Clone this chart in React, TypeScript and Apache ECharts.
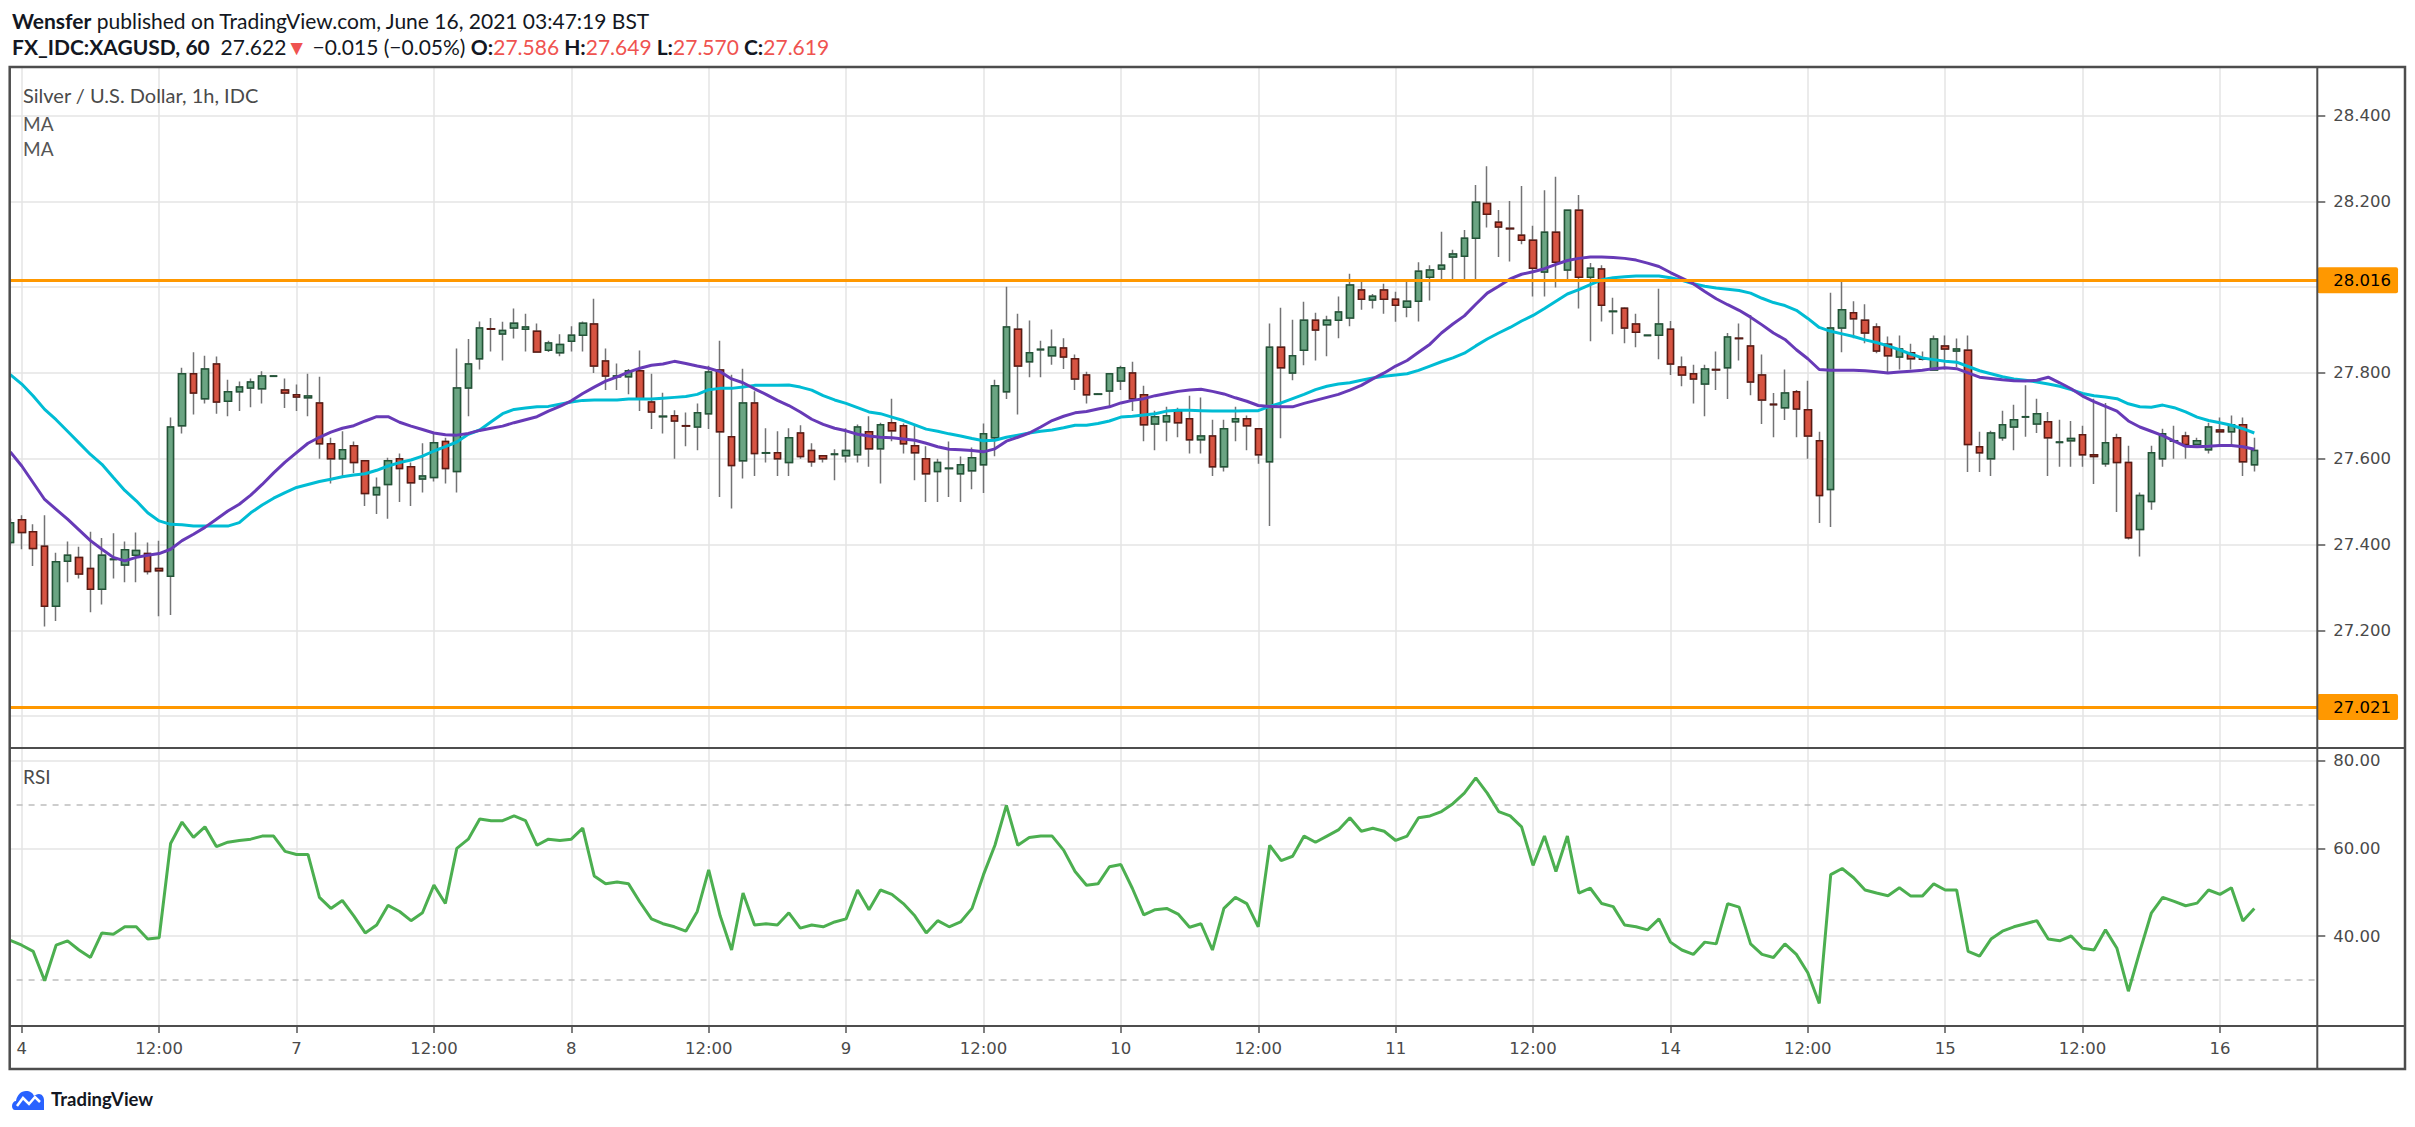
import React, { useEffect, useRef } from 'react';
import * as echarts from 'echarts';

// ---------- data ----------
const dayNames = ['3', '4', '7', '8', '9', '10', '11', '14', '15', '16'];
const SLOT_COUNT = 202;

const opens = [
  27.405, 27.458, 27.430, 27.396, 27.256, 27.361, 27.370, 27.344, 27.296, 27.365,
  27.352, 27.375, 27.379, 27.344, 27.326, 27.677, 27.798, 27.740, 27.821, 27.734,
  27.756, 27.765, 27.763, 27.792, 27.760, 27.749, 27.742, 27.730, 27.635, 27.600,
  27.630, 27.595, 27.516, 27.540, 27.600, 27.581, 27.553, 27.556, 27.640, 27.570,
  27.765, 27.833, 27.903, 27.891, 27.905, 27.902, 27.897, 27.853, 27.847, 27.874,
  27.888, 27.914, 27.828, 27.791, 27.791, 27.805, 27.732, 27.698, 27.700, 27.677,
  27.674, 27.705, 27.807, 27.651, 27.595, 27.730, 27.613, 27.614, 27.591, 27.660,
  27.619, 27.607, 27.610, 27.607, 27.609, 27.663, 27.623, 27.684, 27.677, 27.630,
  27.600, 27.570, 27.577, 27.565, 27.572, 27.586, 27.649, 27.756, 27.902, 27.826,
  27.854, 27.840, 27.858, 27.833, 27.795, 27.750, 27.758, 27.781, 27.800, 27.749,
  27.681, 27.686, 27.712, 27.693, 27.644, 27.653, 27.581, 27.686, 27.693, 27.670,
  27.593, 27.860, 27.800, 27.853, 27.923, 27.912, 27.923, 27.928, 27.993, 27.970,
  27.993, 27.972, 27.953, 27.967, 28.023, 28.042, 28.070, 28.072, 28.114, 28.195,
  28.151, 28.137, 28.121, 28.109, 28.035, 28.128, 28.040, 28.179, 28.023, 28.042,
  27.943, 27.951, 27.914, 27.887, 27.888, 27.902, 27.814, 27.798, 27.774, 27.808,
  27.812, 27.881, 27.863, 27.795, 27.727, 27.719, 27.756, 27.714, 27.642, 27.528,
  27.905, 27.940, 27.923, 27.907, 27.867, 27.837, 27.847, 27.833, 27.807, 27.863,
  27.851, 27.853, 27.628, 27.600, 27.649, 27.674, 27.697, 27.681, 27.686, 27.638,
  27.642, 27.656, 27.609, 27.588, 27.649, 27.591, 27.435, 27.500, 27.600, 27.641,
  27.653, 27.633, 27.621, 27.667, 27.663, 27.679, 27.586,
];

const closes = [
  27.451, 27.428, 27.391, 27.256, 27.360, 27.375, 27.331, 27.296, 27.375, 27.366,
  27.388, 27.386, 27.337, 27.339, 27.674, 27.798, 27.753, 27.809, 27.732, 27.756,
  27.767, 27.779, 27.793, 27.793, 27.753, 27.744, 27.746, 27.635, 27.600, 27.621,
  27.591, 27.519, 27.533, 27.595, 27.577, 27.544, 27.560, 27.637, 27.577, 27.765,
  27.821, 27.905, 27.902, 27.899, 27.916, 27.907, 27.849, 27.870, 27.866, 27.888,
  27.916, 27.816, 27.793, 27.793, 27.805, 27.740, 27.709, 27.699, 27.688, 27.676,
  27.707, 27.802, 27.663, 27.584, 27.730, 27.612, 27.614, 27.600, 27.649, 27.605,
  27.593, 27.600, 27.611, 27.619, 27.674, 27.623, 27.679, 27.665, 27.635, 27.614,
  27.565, 27.591, 27.578, 27.586, 27.602, 27.658, 27.770, 27.907, 27.816, 27.847,
  27.855, 27.860, 27.837, 27.786, 27.749, 27.751, 27.798, 27.812, 27.740, 27.679,
  27.698, 27.700, 27.684, 27.644, 27.653, 27.581, 27.670, 27.693, 27.677, 27.609,
  27.860, 27.812, 27.840, 27.923, 27.900, 27.923, 27.942, 28.005, 27.972, 27.979,
  27.972, 27.958, 27.967, 28.037, 28.040, 28.051, 28.077, 28.114, 28.198, 28.170,
  28.140, 28.136, 28.109, 28.044, 28.128, 28.058, 28.179, 28.023, 28.044, 27.958,
  27.944, 27.905, 27.895, 27.888, 27.914, 27.821, 27.795, 27.786, 27.809, 27.807,
  27.884, 27.880, 27.779, 27.737, 27.726, 27.753, 27.716, 27.653, 27.514, 27.905,
  27.947, 27.926, 27.893, 27.851, 27.840, 27.856, 27.833, 27.832, 27.879, 27.856,
  27.856, 27.633, 27.614, 27.660, 27.679, 27.691, 27.698, 27.705, 27.649, 27.639,
  27.647, 27.609, 27.605, 27.637, 27.591, 27.416, 27.514, 27.614, 27.658, 27.642,
  27.633, 27.642, 27.674, 27.663, 27.679, 27.593, 27.619,
];

const lows = [
  27.400, 27.389, 27.350, 27.209, 27.222, 27.312, 27.321, 27.242, 27.260, 27.321,
  27.312, 27.312, 27.330, 27.233, 27.236, 27.659, 27.703, 27.729, 27.705, 27.699,
  27.711, 27.720, 27.729, 27.791, 27.718, 27.711, 27.699, 27.600, 27.542, 27.556,
  27.567, 27.490, 27.471, 27.460, 27.499, 27.490, 27.521, 27.547, 27.542, 27.521,
  27.699, 27.808, 27.850, 27.829, 27.880, 27.850, 27.849, 27.849, 27.839, 27.850,
  27.850, 27.800, 27.760, 27.760, 27.750, 27.711, 27.669, 27.659, 27.600, 27.629,
  27.620, 27.669, 27.511, 27.484, 27.554, 27.560, 27.591, 27.560, 27.560, 27.600,
  27.581, 27.591, 27.550, 27.591, 27.591, 27.581, 27.542, 27.641, 27.612, 27.550,
  27.499, 27.499, 27.511, 27.499, 27.529, 27.520, 27.606, 27.739, 27.703, 27.790,
  27.790, 27.819, 27.809, 27.760, 27.729, 27.749, 27.721, 27.760, 27.711, 27.641,
  27.620, 27.641, 27.650, 27.612, 27.612, 27.560, 27.570, 27.641, 27.620, 27.588,
  27.443, 27.648, 27.783, 27.818, 27.829, 27.839, 27.881, 27.909, 27.947, 27.950,
  27.938, 27.919, 27.930, 27.920, 27.969, 28.019, 28.019, 28.019, 28.019, 28.139,
  28.070, 28.060, 28.100, 27.978, 27.978, 27.999, 28.019, 27.950, 27.874, 27.920,
  27.890, 27.869, 27.860, 27.887, 27.832, 27.795, 27.769, 27.729, 27.699, 27.760,
  27.739, 27.829, 27.748, 27.681, 27.650, 27.690, 27.650, 27.600, 27.450, 27.441,
  27.848, 27.881, 27.869, 27.846, 27.800, 27.808, 27.808, 27.829, 27.805, 27.808,
  27.814, 27.569, 27.569, 27.560, 27.642, 27.620, 27.651, 27.660, 27.560, 27.581,
  27.581, 27.581, 27.541, 27.581, 27.476, 27.412, 27.372, 27.481, 27.581, 27.600,
  27.600, 27.633, 27.612, 27.628, 27.628, 27.560, 27.570,
];

const highs = [
  27.460, 27.468, 27.447, 27.468, 27.381, 27.407, 27.395, 27.430, 27.415, 27.426,
  27.407, 27.428, 27.405, 27.409, 27.696, 27.812, 27.848, 27.840, 27.838, 27.784,
  27.780, 27.787, 27.804, 27.795, 27.787, 27.773, 27.798, 27.791, 27.649, 27.664,
  27.640, 27.597, 27.556, 27.602, 27.612, 27.591, 27.636, 27.660, 27.649, 27.857,
  27.879, 27.920, 27.928, 27.919, 27.950, 27.938, 27.915, 27.875, 27.890, 27.909,
  27.920, 27.973, 27.857, 27.822, 27.809, 27.852, 27.798, 27.754, 27.713, 27.708,
  27.729, 27.817, 27.875, 27.796, 27.810, 27.757, 27.671, 27.664, 27.671, 27.678,
  27.636, 27.607, 27.622, 27.671, 27.680, 27.699, 27.684, 27.740, 27.682, 27.680,
  27.629, 27.600, 27.640, 27.605, 27.626, 27.682, 27.784, 28.001, 27.938, 27.922,
  27.875, 27.901, 27.881, 27.843, 27.803, 27.753, 27.800, 27.817, 27.826, 27.770,
  27.712, 27.721, 27.719, 27.747, 27.743, 27.691, 27.691, 27.721, 27.701, 27.670,
  27.915, 27.952, 27.924, 27.966, 27.940, 27.933, 27.978, 28.031, 28.017, 27.984,
  28.008, 27.989, 28.012, 28.058, 28.051, 28.129, 28.087, 28.133, 28.238, 28.282,
  28.180, 28.201, 28.236, 28.143, 28.226, 28.257, 28.181, 28.215, 28.056, 28.051,
  27.975, 27.953, 27.938, 27.889, 27.996, 27.921, 27.838, 27.819, 27.819, 27.850,
  27.893, 27.915, 27.935, 27.843, 27.753, 27.808, 27.760, 27.782, 27.663, 27.987,
  28.012, 27.967, 27.960, 27.916, 27.885, 27.887, 27.868, 27.850, 27.887, 27.887,
  27.880, 27.887, 27.663, 27.665, 27.712, 27.726, 27.771, 27.740, 27.709, 27.691,
  27.688, 27.677, 27.740, 27.730, 27.658, 27.630, 27.521, 27.630, 27.670, 27.677,
  27.663, 27.649, 27.684, 27.696, 27.701, 27.696, 27.649,
];

const maSlow = [
  27.796, 27.774, 27.746, 27.715, 27.691, 27.664, 27.637, 27.610, 27.587, 27.556,
  27.526, 27.502, 27.474, 27.455, 27.447, 27.446, 27.443, 27.443, 27.443, 27.443,
  27.451, 27.474, 27.492, 27.508, 27.521, 27.533, 27.540, 27.547, 27.552, 27.558,
  27.562, 27.565, 27.573, 27.583, 27.591, 27.597, 27.606, 27.618, 27.628, 27.639,
  27.657, 27.667, 27.686, 27.705, 27.715, 27.718, 27.721, 27.722, 27.727, 27.732,
  27.736, 27.737, 27.737, 27.737, 27.739, 27.739, 27.739, 27.741, 27.743, 27.745,
  27.750, 27.761, 27.764, 27.764, 27.767, 27.771, 27.771, 27.771, 27.772, 27.767,
  27.760, 27.747, 27.737, 27.729, 27.719, 27.709, 27.705, 27.697, 27.689, 27.679,
  27.669, 27.664, 27.658, 27.653, 27.647, 27.642, 27.643, 27.650, 27.655, 27.660,
  27.664, 27.667, 27.672, 27.678, 27.678, 27.682, 27.688, 27.697, 27.699, 27.702,
  27.705, 27.711, 27.713, 27.713, 27.712, 27.711, 27.711, 27.711, 27.712, 27.712,
  27.722, 27.730, 27.740, 27.750, 27.761, 27.769, 27.774, 27.777, 27.783, 27.788,
  27.792, 27.795, 27.798, 27.806, 27.816, 27.826, 27.835, 27.846, 27.863, 27.879,
  27.893, 27.906, 27.921, 27.934, 27.950, 27.967, 27.984, 27.994, 28.006, 28.017,
  28.022, 28.024, 28.026, 28.026, 28.026, 28.022, 28.016, 28.008, 28.002, 27.998,
  27.995, 27.992, 27.986, 27.974, 27.964, 27.957, 27.946, 27.927, 27.906, 27.897,
  27.891, 27.885, 27.877, 27.871, 27.863, 27.854, 27.844, 27.835, 27.831, 27.827,
  27.825, 27.815, 27.805, 27.798, 27.791, 27.786, 27.783, 27.779, 27.774, 27.769,
  27.761, 27.752, 27.747, 27.744, 27.740, 27.728, 27.721, 27.720, 27.725, 27.719,
  27.709, 27.697, 27.689, 27.684, 27.678, 27.670, 27.660,
];

const maFast = [
  27.616, 27.583, 27.544, 27.505, 27.482, 27.459, 27.434, 27.409, 27.389, 27.370,
  27.362, 27.370, 27.375, 27.379, 27.389, 27.409, 27.424, 27.440, 27.459, 27.478,
  27.494, 27.515, 27.540, 27.567, 27.592, 27.614, 27.636, 27.650, 27.662, 27.671,
  27.677, 27.688, 27.698, 27.698, 27.685, 27.676, 27.668, 27.660, 27.656, 27.655,
  27.659, 27.666, 27.671, 27.676, 27.684, 27.691, 27.698, 27.711, 27.722, 27.735,
  27.752, 27.767, 27.781, 27.791, 27.802, 27.811, 27.818, 27.821, 27.827, 27.822,
  27.816, 27.811, 27.803, 27.786, 27.777, 27.763, 27.750, 27.736, 27.724, 27.709,
  27.692, 27.680, 27.671, 27.665, 27.657, 27.653, 27.650, 27.649, 27.646, 27.643,
  27.636, 27.628, 27.622, 27.621, 27.619, 27.616, 27.623, 27.641, 27.650, 27.660,
  27.674, 27.689, 27.699, 27.707, 27.710, 27.716, 27.721, 27.730, 27.736, 27.740,
  27.747, 27.752, 27.757, 27.760, 27.762, 27.757, 27.751, 27.742, 27.734, 27.724,
  27.722, 27.721, 27.721, 27.729, 27.736, 27.743, 27.750, 27.760, 27.771, 27.786,
  27.800, 27.816, 27.829, 27.848, 27.867, 27.893, 27.914, 27.933, 27.960, 27.986,
  28.002, 28.019, 28.030, 28.036, 28.043, 28.053, 28.062, 28.067, 28.070, 28.070,
  28.069, 28.067, 28.063, 28.056, 28.048, 28.034, 28.021, 28.008, 27.990, 27.973,
  27.959, 27.946, 27.930, 27.912, 27.893, 27.878, 27.854, 27.833, 27.808, 27.806,
  27.806, 27.806, 27.805, 27.803, 27.800, 27.802, 27.804, 27.806, 27.810, 27.812,
  27.810, 27.800, 27.790, 27.787, 27.784, 27.782, 27.781, 27.783, 27.790, 27.777,
  27.763, 27.746, 27.733, 27.722, 27.711, 27.688, 27.674, 27.664, 27.654, 27.641,
  27.629, 27.628, 27.629, 27.631, 27.631, 27.628, 27.622,
];

const rsiValues = [
  39.0, 37.9, 36.5, 29.8, 37.9, 38.9, 36.8, 35.1, 40.7, 40.4,
  42.1, 42.1, 39.3, 39.6, 61.1, 66.0, 62.5, 64.9, 60.4, 61.4,
  61.8, 62.1, 62.8, 62.8, 59.3, 58.6, 58.6, 48.8, 46.3, 48.1,
  44.6, 40.7, 42.5, 47.0, 45.6, 43.5, 45.3, 51.6, 47.4, 60.0,
  62.1, 66.7, 66.3, 66.3, 67.4, 66.3, 60.7, 62.1, 61.8, 62.1,
  64.6, 53.7, 51.9, 52.3, 51.9, 47.7, 43.9, 42.8, 42.1, 41.1,
  45.6, 55.1, 44.6, 36.8, 49.8, 42.5, 42.8, 42.5, 45.3, 41.8,
  42.5, 42.1, 43.2, 43.9, 50.5, 46.0, 50.5, 49.5, 47.4, 44.6,
  40.7, 43.5, 42.1, 43.2, 46.3, 54.0, 60.7, 69.8, 60.7, 62.5,
  62.8, 62.8, 59.6, 54.7, 51.6, 51.9, 55.8, 56.3, 50.9, 44.8,
  46.0, 46.3, 45.0, 42.0, 42.8, 36.8, 46.3, 48.8, 47.4, 42.1,
  60.7, 57.2, 58.2, 62.8, 61.4, 62.8, 64.2, 67.0, 63.9, 64.6,
  63.9, 61.8, 62.8, 67.0, 67.4, 68.4, 70.2, 72.6, 76.1, 72.6,
  68.4, 67.4, 64.9, 56.1, 62.8, 54.7, 62.8, 49.8, 50.9, 47.4,
  46.7, 42.5, 42.1, 41.4, 43.9, 38.6, 36.8, 35.8, 38.6, 38.2,
  47.4, 46.6, 38.2, 35.8, 35.1, 38.2, 35.8, 31.6, 24.6, 54.0,
  55.4, 53.3, 50.5, 49.8, 49.2, 51.0, 49.1, 49.1, 51.9, 50.5,
  50.5, 36.5, 35.4, 39.3, 41.1, 42.1, 42.8, 43.5, 39.3, 38.9,
  40.0, 37.2, 36.8, 41.4, 37.2, 27.4, 36.5, 45.2, 48.8, 47.9,
  46.9, 47.5, 50.5, 49.5, 51.0, 43.4, 46.3,
];

const priceTicks = [27.0, 27.2, 27.4, 27.6, 27.8, 28.0, 28.2, 28.4];
// 28.000 and 27.000 are covered by the orange level labels in the reference
const priceLabelValues = [27.2, 27.4, 27.6, 27.8, 28.2, 28.4];
const levelLines = [28.016, 27.021];
const rsiTicks = [40, 60, 80];
const rsiBands = [70, 30];

// ---------- categories (hourly bars) ----------
const categories: string[] = [];
for (let i = 0; i < SLOT_COUNT; i++) {
  const h = (i + 23) % 24;
  const d = dayNames[Math.floor((i + 23) / 24)];
  categories.push(`${d} ${String(h).padStart(2, '0')}:00`);
}
const isLabelled = (i: number) => {
  const h = (i + 23) % 24;
  return h === 0 || h === 12;
};
const labelledCats = categories.filter((_, i) => isLabelled(i));

const candleFull = opens.map((o, i) => [o, closes[i], lows[i], highs[i]]);
const candleBody = opens.map((o, i) => [o, closes[i], Math.min(o, closes[i]), Math.max(o, closes[i])]);

const GRID_COLOR = '#e4e4e4';
const FRAME = '#4d4d4d';
const AXIS_TEXT = '#4a4a4a';
const RED = '#ef5350';
const HEAD_SIZE = 21;

echarts.graphic.registerShape(
  'tvlogo',
  echarts.graphic.extendPath(
    'M3,22 C1,22 0,20 0,18 C0,15 2,13 4,13 C5,7 9,3 14,3 C18,3 21,5 22,8 C23,7 25,6 27,6 C30,6 32,9 32,12 L32,22 Z',
    {}
  )
);

export default function App() {
  const ref = useRef<HTMLDivElement>(null);
  useEffect(() => {
    if (!ref.current) return;
    const chart = echarts.init(ref.current, null, { renderer: 'svg' });
    const gridLeft = 4.58;
    const gridWidth = 2312.72;

    const option: any = {
      animation: false,
      backgroundColor: '#ffffff',
      grid: [
        { left: gridLeft, width: gridWidth, top: 67, height: 681 },
        { left: gridLeft, width: gridWidth, top: 748, height: 278 },
      ],
      xAxis: [
        {
          type: 'category',
          gridIndex: 0,
          data: categories,
          boundaryGap: true,
          axisLine: { show: false },
          axisTick: { show: false },
          axisLabel: { show: false },
          splitLine: { show: false },
        },
        {
          type: 'category',
          gridIndex: 1,
          data: categories,
          boundaryGap: true,
          axisLine: { show: false },
          axisTick: {
            show: true,
            alignWithLabel: true,
            interval: (i: number) => isLabelled(i),
            length: 7,
            lineStyle: { color: '#555555', width: 1.5 },
          },
          axisLabel: {
            show: true,
            interval: (i: number) => isLabelled(i),
            formatter: (v: string) => {
              const [d, t] = v.split(' ');
              return t === '00:00' ? d : t;
            },
            margin: 14,
            color: AXIS_TEXT,
            fontFamily: 'DejaVu Sans',
            fontSize: 16.5,
          },
          splitLine: { show: false },
        },
      ],
      yAxis: [
        {
          type: 'value',
          gridIndex: 0,
          position: 'right',
          min: 26.9257,
          max: 28.5131,
          axisLine: { show: false },
          splitLine: { show: false },
          axisTick: {
            show: true,
            customValues: priceTicks,
            length: 8,
            lineStyle: { color: '#555555', width: 1.5 },
          },
          axisLabel: {
            show: true,
            customValues: priceLabelValues,
            formatter: (v: number) => v.toFixed(3),
            margin: 16,
            color: AXIS_TEXT,
            fontFamily: 'DejaVu Sans',
            fontSize: 16.5,
          },
        },
        {
          type: 'value',
          gridIndex: 1,
          position: 'right',
          min: 19.464,
          max: 82.898,
          axisLine: { show: false },
          splitLine: { show: false },
          axisTick: {
            show: true,
            customValues: rsiTicks,
            length: 8,
            lineStyle: { color: '#555555', width: 1.5 },
          },
          axisLabel: {
            show: true,
            customValues: rsiTicks,
            formatter: (v: number) => v.toFixed(2),
            margin: 16,
            color: AXIS_TEXT,
            fontFamily: 'DejaVu Sans',
            fontSize: 16.5,
          },
        },
      ],
      series: [
        {
          name: 'priceGrid',
          type: 'line',
          xAxisIndex: 0,
          yAxisIndex: 0,
          data: [],
          z: 1,
          markLine: {
            z: 1,
            silent: true,
            symbol: ['none', 'none'],
            label: { show: false },
            lineStyle: { color: GRID_COLOR, width: 1.5, type: 'solid' },
            data: [
              ...labelledCats.map((c) => ({ xAxis: c })),
              ...priceTicks.map((v) => ({ yAxis: v })),
            ],
          },
        },
        {
          name: 'rsiGrid',
          type: 'line',
          xAxisIndex: 1,
          yAxisIndex: 1,
          data: [],
          z: 1,
          markLine: {
            z: 1,
            silent: true,
            symbol: ['none', 'none'],
            label: { show: false },
            lineStyle: { color: GRID_COLOR, width: 1.5, type: 'solid' },
            data: [
              ...labelledCats.map((c) => ({ xAxis: c })),
              ...rsiTicks.map((v) => ({ yAxis: v })),
              ...rsiBands.map((v) => ({
                yAxis: v,
                lineStyle: { color: '#bdbdbd', width: 1.5, type: [6, 6] },
              })),
            ],
          },
        },
        {
          name: 'wicks',
          type: 'candlestick',
          xAxisIndex: 0,
          yAxisIndex: 0,
          data: candleFull,
          barWidth: 7,
          z: 2,
          itemStyle: {
            color: '#737375',
            color0: '#737375',
            borderColor: '#737375',
            borderColor0: '#737375',
            borderWidth: 1.5,
          },
        },
        {
          name: 'bodies',
          type: 'candlestick',
          xAxisIndex: 0,
          yAxisIndex: 0,
          data: candleBody,
          barWidth: 7,
          z: 3,
          itemStyle: {
            color: '#6ba583',
            color0: '#d75442',
            borderColor: '#225437',
            borderColor0: '#5b1a13',
            borderWidth: 1.5,
          },
        },
        {
          name: 'MA slow',
          type: 'line',
          xAxisIndex: 0,
          yAxisIndex: 0,
          data: maSlow,
          showSymbol: false,
          symbol: 'none',
          z: 4,
          lineStyle: { color: '#00bcd4', width: 3 },
        },
        {
          name: 'MA fast',
          type: 'line',
          xAxisIndex: 0,
          yAxisIndex: 0,
          data: maFast,
          showSymbol: false,
          symbol: 'none',
          z: 4,
          lineStyle: { color: '#673ab7', width: 3 },
        },
        {
          name: 'levels',
          type: 'line',
          xAxisIndex: 0,
          yAxisIndex: 0,
          data: [],
          z: 5,
          markLine: {
            z: 6,
            silent: true,
            precision: 3,
            symbol: ['none', 'none'],
            lineStyle: { color: '#ff9800', width: 3, type: 'solid' },
            label: {
              show: true,
              position: 'end',
              distance: 0,
              formatter: (p: any) => levelLines[p.dataIndex].toFixed(3),
              backgroundColor: '#ff9800',
              color: '#000000',
              padding: [5, 7, 4, 16],
              borderRadius: 2,
              fontFamily: 'DejaVu Sans',
              fontSize: 16.5,
            },
            data: levelLines.map((v) => ({ yAxis: v })),
          },
        },
        {
          name: 'RSI',
          type: 'line',
          xAxisIndex: 1,
          yAxisIndex: 1,
          data: rsiValues,
          showSymbol: false,
          symbol: 'none',
          z: 4,
          lineStyle: { color: '#4caf50', width: 3 },
        },
      ],
      graphic: [
        { type: 'rect', z: 90, shape: { x: 0, y: 60, width: 9, height: 1015 }, style: { fill: '#ffffff' } },
        {
          type: 'rect',
          z: 100,
          shape: { x: 9.7, y: 67, width: 2395.3, height: 1002 },
          style: { fill: 'none', stroke: FRAME, lineWidth: 2.5 },
        },
        { type: 'line', z: 100, shape: { x1: 9.7, y1: 748, x2: 2405, y2: 748 }, style: { stroke: FRAME, lineWidth: 2 } },
        { type: 'line', z: 100, shape: { x1: 9.7, y1: 1026, x2: 2405, y2: 1026 }, style: { stroke: FRAME, lineWidth: 2 } },
        { type: 'line', z: 100, shape: { x1: 2317.3, y1: 67, x2: 2317.3, y2: 1069 }, style: { stroke: FRAME, lineWidth: 2 } },
        {
          type: 'text',
          z: 100,
          x: 12,
          y: 20,
          style: {
            text: '{b|Wensfer}{n| published on TradingView.com, June 16, 2021 03:47:19 BST}',
            verticalAlign: 'middle',
            rich: {
              b: { fontFamily: 'Lato', fontSize: HEAD_SIZE, fontWeight: 'bold', fill: '#131722' },
              n: { fontFamily: 'Lato', fontSize: HEAD_SIZE, fill: '#131722' },
            },
          },
        },
        {
          type: 'text',
          z: 100,
          x: 12,
          y: 46,
          style: {
            text:
              '{b|FX_IDC:XAGUSD, 60}{n|  27.622}{r|▼}{n| −0.015 (−0.05%) }{b|O:}{r|27.586}{b| H:}{r|27.649}{b| L:}{r|27.570}{b| C:}{r|27.619}',
            verticalAlign: 'middle',
            rich: {
              b: { fontFamily: 'Lato', fontSize: HEAD_SIZE, fontWeight: 'bold', fill: '#131722' },
              n: { fontFamily: 'Lato', fontSize: HEAD_SIZE, fill: '#131722' },
              r: { fontFamily: 'Lato', fontSize: HEAD_SIZE, fill: RED },
            },
          },
        },
        {
          type: 'text',
          z: 100,
          x: 23,
          y: 95,
          style: { text: 'Silver / U.S. Dollar, 1h, IDC', fontFamily: 'Lato', fontSize: 20, fill: '#4a4a4a', verticalAlign: 'middle' },
        },
        {
          type: 'text',
          z: 100,
          x: 23,
          y: 123,
          style: { text: 'MA', fontFamily: 'Lato', fontSize: 19, fill: '#555555', verticalAlign: 'middle' },
        },
        {
          type: 'text',
          z: 100,
          x: 23,
          y: 148,
          style: { text: 'MA', fontFamily: 'Lato', fontSize: 19, fill: '#555555', verticalAlign: 'middle' },
        },
        {
          type: 'text',
          z: 100,
          x: 23,
          y: 776,
          style: { text: 'RSI', fontFamily: 'Lato', fontSize: 19, fill: '#4a4a4a', verticalAlign: 'middle' },
        },
        {
          type: 'group',
          z: 100,
          x: 12,
          y: 1088,
          children: [
            { type: 'tvlogo', z: 100, x: 0, y: 0, scaleX: 1, scaleY: 1, style: { fill: '#2962ff' } },
            {
              type: 'polyline',
              z: 101,
              shape: { points: [[5, 18], [11, 10], [17, 16], [23, 9], [28, 14]] },
              style: { stroke: '#ffffff', lineWidth: 2.5, fill: 'none' },
            },
          ],
        },
        {
          type: 'text',
          z: 100,
          x: 51,
          y: 1099,
          style: { text: 'TradingView', fontFamily: 'Lato', fontSize: 18.5, fontWeight: 'bold', fill: '#131722', verticalAlign: 'middle' },
        },
      ],
    };
    chart.setOption(option);
    return () => chart.dispose();
  }, []);

  return (
    <div
      ref={ref}
      style={{ position: 'absolute', left: 0, top: 0, width: 2415, height: 1127, background: '#ffffff' }}
    />
  );
}
